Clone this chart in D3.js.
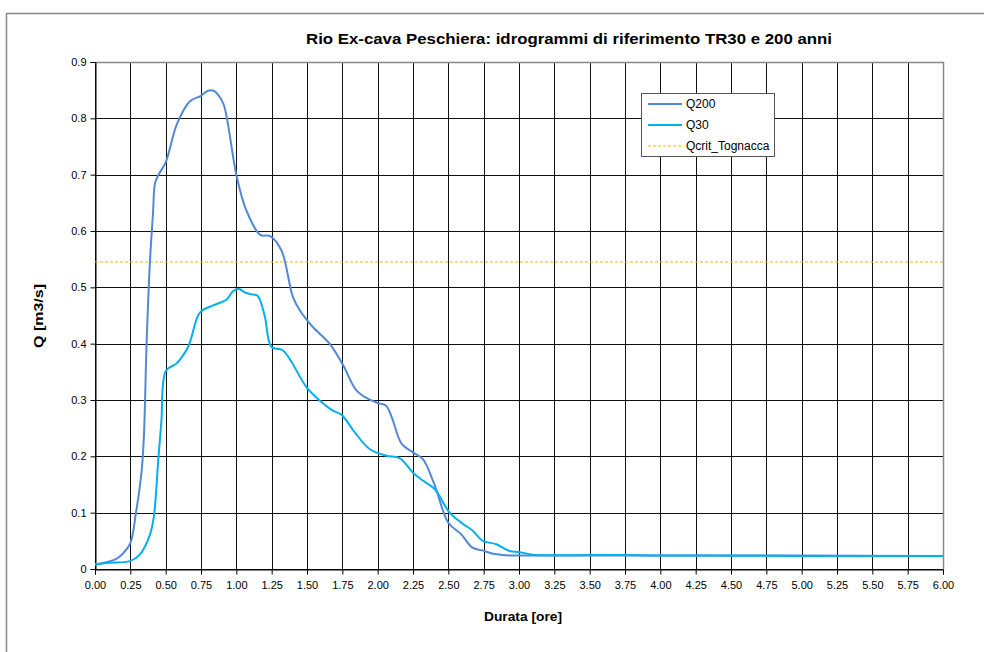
<!DOCTYPE html>
<html>
<head>
<meta charset="utf-8">
<script src="https://cdn.jsdelivr.net/npm/d3@7"></script>
<style>
  body { margin: 0; background: #fff; }
  svg { font-family: "Liberation Sans", Arial, sans-serif; }
</style>
</head>
<body>
<svg width="984" height="652"></svg>
<script>
// hydrograph readings (hours, m3/s)
const q200Time = [0.00, 0.08, 0.15, 0.20, 0.25, 0.29, 0.33, 0.346, 0.365, 0.389, 0.41, 0.425, 0.45, 0.50, 0.58, 0.67, 0.75, 0.80, 0.84, 0.87, 0.91, 1.00, 1.07, 1.17, 1.24, 1.32, 1.40, 1.45, 1.54, 1.66, 1.755, 1.85, 1.94, 2.01, 2.06, 2.10, 2.17, 2.25, 2.32, 2.40, 2.50, 2.59, 2.67, 2.74, 2.84, 2.96, 3.25, 4.00, 5.00, 6.00];
const q200Flow = [0.008, 0.012, 0.018, 0.028, 0.046, 0.100, 0.174, 0.235, 0.400, 0.547, 0.630, 0.685, 0.700, 0.722, 0.790, 0.830, 0.840, 0.849, 0.849, 0.842, 0.825, 0.700, 0.637, 0.593, 0.591, 0.565, 0.483, 0.459, 0.430, 0.400, 0.362, 0.317, 0.301, 0.294, 0.290, 0.269, 0.222, 0.207, 0.195, 0.151, 0.082, 0.062, 0.038, 0.033, 0.026, 0.024, 0.024, 0.024, 0.024, 0.023];

const q30Time = [0.00, 0.10, 0.247, 0.318, 0.39, 0.417, 0.447, 0.459, 0.47, 0.502, 0.577, 0.66, 0.742, 0.836, 0.93, 0.98, 1.02, 1.06, 1.10, 1.15, 1.20, 1.249, 1.33, 1.496, 1.59, 1.684, 1.743, 1.837, 1.943, 2.061, 2.155, 2.25, 2.32, 2.403, 2.509, 2.604, 2.673, 2.744, 2.839, 2.933, 3.00, 3.12, 3.50, 3.75, 4.00, 6.00];
const q30Flow = [0.008, 0.011, 0.014, 0.026, 0.062, 0.094, 0.192, 0.229, 0.263, 0.352, 0.365, 0.395, 0.455, 0.468, 0.478, 0.494, 0.497, 0.491, 0.488, 0.485, 0.450, 0.394, 0.388, 0.323, 0.299, 0.281, 0.274, 0.243, 0.213, 0.201, 0.197, 0.171, 0.157, 0.142, 0.100, 0.080, 0.068, 0.050, 0.044, 0.032, 0.030, 0.025, 0.025, 0.025, 0.024, 0.023];

const qCrit = 0.545;

const xTicks = d3.range(0, 6.001, 0.25);
const yTicks = d3.range(0, 0.901, 0.1);

const seriesNames = ['Q200', 'Q30', 'Qcrit_Tognacca'];
const seriesColors = ['#5289d6', '#00b0f0', '#f5b800'];

const margin = {top: 62, right: 41, bottom: 83, left: 95};
const width = 984 - margin.left - margin.right;
const height = 652 - margin.top - margin.bottom;

const svg = d3.select('svg');

// outer chart frame
svg.append('rect')
  .attr('x', 6.5).attr('y', 13.5)
  .attr('width', 1000).attr('height', 700)
  .attr('fill', 'none')
  .attr('stroke', '#888')
  .attr('stroke-width', 1.5);

const g = svg.append('g')
  .attr('transform', 'translate(' + margin.left + ',' + margin.top + ')');

const x = d3.scaleLinear().domain([0, 6]).range([0, width]);
const y = d3.scaleLinear().domain([0, 0.9]).range([height, 0]);

// grid
g.append('g')
  .selectAll('line')
  .data(xTicks)
  .enter()
  .append('line')
  .attr('x1', d => Math.round(x(d)) + 0.5)
  .attr('x2', d => Math.round(x(d)) + 0.5)
  .attr('y1', 0)
  .attr('y2', height)
  .attr('stroke', '#111');

g.append('g')
  .selectAll('line')
  .data(yTicks)
  .enter()
  .append('line')
  .attr('x1', 0)
  .attr('x2', width)
  .attr('y1', d => Math.round(y(d)) + 0.5)
  .attr('y2', d => Math.round(y(d)) + 0.5)
  .attr('stroke', '#111');

// plot border top/right
g.append('path')
  .attr('d', 'M0,0.5H' + (width + 0.5) + 'V' + height)
  .attr('fill', 'none')
  .attr('stroke', '#888')
  .attr('stroke-width', 1.5);

// axes
const xAxis = g.append('g')
  .attr('transform', 'translate(0,' + (height + 0.5) + ')')
  .call(d3.axisBottom(x).tickValues(xTicks).tickSize(5).tickFormat(d3.format('.2f')));

const yAxis = g.append('g')
  .attr('transform', 'translate(0.5,0)')
  .call(d3.axisLeft(y).tickValues(yTicks).tickSize(5).tickFormat(d => d === 0 ? '0' : d3.format('.1f')(d)));

[xAxis, yAxis].forEach(a => {
  a.select('.domain').attr('stroke', '#000');
  a.selectAll('.tick line').attr('stroke', '#000');
  a.selectAll('.tick text')
    .attr('fill', '#000')
    .style('font-size', '11px')
    .style('font-family', '"Liberation Sans", Arial, sans-serif');
});
xAxis.selectAll('.tick text').attr('dy', '1.05em');
yAxis.selectAll('.tick text').attr('x', -9);

// threshold line
g.append('line')
  .attr('x1', 0)
  .attr('x2', width)
  .attr('y1', y(qCrit))
  .attr('y2', y(qCrit))
  .attr('stroke', seriesColors[2])
  .attr('stroke-width', 1)
  .attr('stroke-dasharray', '3,2');

const line = d3.line()
  .x(d => x(d[0]))
  .y(d => y(d[1]))
  .curve(d3.curveCatmullRom.alpha(0.5));

const q200 = q200Time.map((t, i) => [t, q200Flow[i]]);
const q30 = q30Time.map((t, i) => [t, q30Flow[i]]);

g.append('path')
  .datum(q200)
  .attr('d', line)
  .attr('fill', 'none')
  .attr('stroke', seriesColors[0])
  .attr('stroke-width', 2);

g.append('path')
  .datum(q30)
  .attr('d', line)
  .attr('fill', 'none')
  .attr('stroke', seriesColors[1])
  .attr('stroke-width', 2);

// titles
svg.append('text')
  .attr('x', 569)
  .attr('y', 44)
  .attr('text-anchor', 'middle')
  .attr('textLength', 526)
  .attr('lengthAdjust', 'spacingAndGlyphs')
  .style('font-size', '14px')
  .style('font-weight', 'bold')
  .text('Rio Ex-cava Peschiera: idrogrammi di riferimento TR30 e 200 anni');

svg.append('text')
  .attr('x', 523)
  .attr('y', 621)
  .attr('text-anchor', 'middle')
  .attr('textLength', 78)
  .attr('lengthAdjust', 'spacingAndGlyphs')
  .style('font-size', '13px')
  .style('font-weight', 'bold')
  .text('Durata [ore]');

svg.append('text')
  .attr('transform', 'translate(43,' + 316 + ') rotate(-90)')
  .attr('text-anchor', 'middle')
  .attr('textLength', 64)
  .attr('lengthAdjust', 'spacingAndGlyphs')
  .style('font-size', '13px')
  .style('font-weight', 'bold')
  .text('Q [m3/s]');

// legend
const legend = svg.append('g')
  .attr('transform', 'translate(641,93)');

legend.append('rect')
  .attr('x', 0.5).attr('y', 0.5)
  .attr('width', 133).attr('height', 63)
  .attr('fill', '#fff')
  .attr('stroke', '#555');

const rows = legend.selectAll('.row')
  .data(seriesNames)
  .enter()
  .append('g')
  .attr('class', 'row')
  .attr('transform', (d, i) => 'translate(0,' + (11 + i * 21) + ')');

rows.append('line')
  .attr('x1', 7).attr('x2', 41)
  .attr('stroke', (d, i) => seriesColors[i])
  .attr('stroke-width', (d, i) => i === 2 ? 1 : 2)
  .attr('stroke-dasharray', (d, i) => i === 2 ? '3,2' : null);

rows.append('text')
  .attr('x', 45)
  .attr('dy', '0.35em')
  .style('font-size', '12px')
  .text(d => d);
</script>
</body>
</html>
